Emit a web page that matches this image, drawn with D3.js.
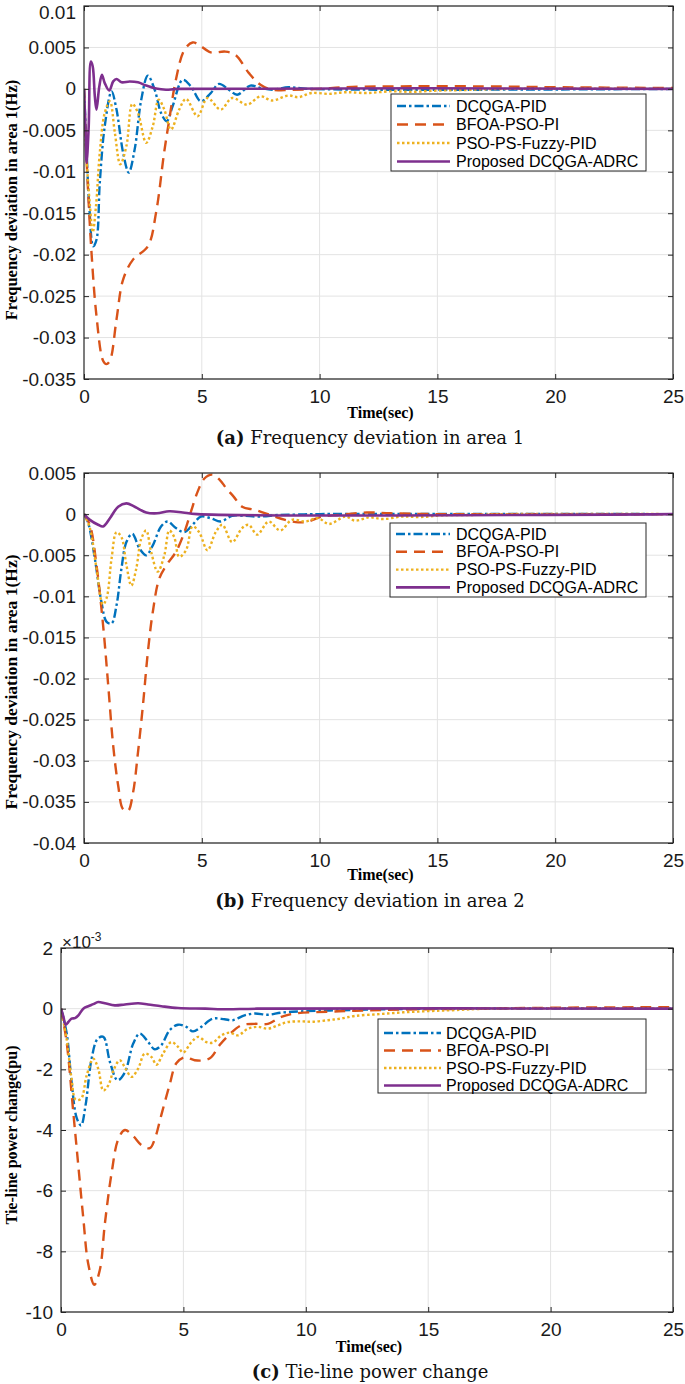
<!DOCTYPE html>
<html><head><meta charset="utf-8">
<script src="https://cdn.jsdelivr.net/npm/d3@7"></script>
<style>body{margin:0;background:#fff} svg{display:block}</style>
</head><body>
<svg id="chart" width="685" height="1384"></svg>
<script>
// ---------- DATA ----------
const seriesNames = ["DCQGA-PID", "BFOA-PSO-PI", "PSO-PS-Fuzzy-PID", "Proposed DCQGA-ADRC"];
const xTicks = [0, 5, 10, 15, 20, 25];

// Panel (a): frequency deviation area 1, values in units of 0.001 Hz  [time(s), value]
const a_DCQGA = [[0,0],[0.08,-5.3],[0.22,-14],[0.39,-19],[0.53,-18.2],[0.67,-11.3],[0.88,-4.5],[1.17,-0.3],[1.38,-2.5],[1.66,-7.7],[1.9,-10.1],[2.15,-7.3],[2.43,-1.3],[2.71,1.6],[3.0,-0.1],[3.27,-2.9],[3.51,-3.9],[3.76,-2.1],[4.19,1.1],[4.54,0.3],[4.96,-1.5],[5.38,-0.5],[5.73,0.6],[6.15,-0.1],[6.5,-0.7],[7.06,0.4],[7.5,0.1],[8.0,-0.1],[8.68,0.2],[9.5,0],[25,0]];
const a_BFOA = [[0,0],[0.11,-8.5],[0.32,-19.8],[0.53,-27.4],[0.81,-32.8],[0.95,-33.2],[1.1,-32.8],[1.38,-27.8],[1.66,-23],[2.08,-20.6],[2.71,-19],[3.06,-14.9],[3.4,-7.7],[3.62,-3.7],[3.9,1.1],[4.26,4.7],[4.61,5.6],[4.89,5.3],[5.38,4.4],[6.0,4.5],[6.43,4.1],[7.0,1.9],[7.49,0.5],[7.98,-0.1],[8.8,-0.1],[10,0],[11,0.2],[13,0.3],[17,0.3],[20,0.2],[25,0.1]];
const a_PSO = [[0,0],[0.11,-8.5],[0.25,-14],[0.37,-17.3],[0.51,-14.1],[0.67,-7.7],[0.88,-2.9],[1.1,-1.5],[1.31,-5.3],[1.54,-9.1],[1.8,-6.9],[2.05,-1.8],[2.29,-2.9],[2.64,-6.5],[2.92,-4.5],[3.17,-1.3],[3.41,-2.5],[3.69,-4.9],[4.04,-2.5],[4.33,-1.2],[4.82,-3.3],[5.24,-1.1],[5.8,-2.5],[6.29,-1.1],[6.92,-1.9],[7.49,-0.9],[7.98,-1.4],[8.68,-0.8],[9.1,-1.0],[9.66,-0.5],[10.4,-0.6],[11.1,-0.4],[12,-0.5],[13,-0.3],[14,-0.35],[15,-0.2],[16,-0.15],[17,-0.05],[18,0],[25,0]];
const a_ADRC = [[0,0],[0.06,-4.5],[0.11,-8.9],[0.2,-4.5],[0.29,3.3],[0.37,2.7],[0.46,-0.9],[0.53,-2.5],[0.65,0.3],[0.76,1.7],[0.88,0.7],[1.07,-0.2],[1.24,0.9],[1.38,1.2],[1.59,0.8],[1.94,0.9],[2.29,0.8],[2.64,0.4],[3.06,0.04],[3.48,-0.1],[4,0],[25,0]];

// Panel (b): frequency deviation area 2, units of 0.001 Hz
const b_DCQGA = [[0,0],[0.18,-1.1],[0.46,-5.4],[0.74,-10.7],[0.96,-13.1],[1.17,-13.3],[1.38,-11.1],[1.59,-6.6],[1.8,-3.4],[2.05,-2.4],[2.36,-4.2],[2.64,-5.0],[2.92,-3.8],[3.27,-1.5],[3.55,-0.9],[3.9,-1.7],[4.26,-2.2],[4.61,-1.3],[4.96,-0.3],[5.38,-0.5],[5.8,-0.9],[6.29,-0.2],[6.8,-0.2],[7.42,-0.3],[8.3,-0.1],[9.1,-0.05],[10,0],[25,0]];
const b_BFOA = [[0,0],[0.25,-1.3],[0.53,-6.2],[0.81,-13.5],[1.03,-20.9],[1.24,-28.2],[1.45,-33],[1.66,-35.9],[1.87,-36.1],[2.08,-33.9],[2.29,-29],[2.5,-23.3],[2.71,-16.8],[2.92,-11.9],[3.2,-7.8],[3.55,-6.0],[3.9,-4.6],[4.26,-2.2],[4.54,0.3],[4.82,2.7],[5.1,4.3],[5.45,4.8],[5.75,4.2],[6.05,3.1],[6.36,2.1],[6.71,0.9],[7.28,0.5],[7.9,-0.1],[8.54,-0.7],[9.1,-1.0],[9.52,-0.9],[10.1,-0.3],[10.8,-0.1],[12,0.2],[13,0.1],[15,0],[25,0]];
const b_PSO = [[0,0],[0.25,-1.7],[0.53,-6.6],[0.8,-11],[0.96,-10.2],[1.17,-5.4],[1.38,-2.2],[1.59,-2.8],[1.8,-6.2],[2.01,-8.7],[2.22,-6.6],[2.43,-3.0],[2.64,-2.0],[2.85,-4.6],[3.13,-7.0],[3.41,-5.0],[3.62,-2.0],[3.83,-2.8],[4.04,-5.2],[4.33,-4.4],[4.61,-1.5],[4.89,-2.2],[5.24,-4.4],[5.59,-2.2],[5.87,-1.3],[6.29,-3.4],[6.71,-1.7],[6.99,-1.3],[7.35,-2.5],[7.84,-0.9],[8.33,-2.0],[8.82,-0.7],[9.38,-0.9],[9.94,-0.5],[10.4,-1.2],[11.1,-0.3],[11.5,-0.8],[12.1,-0.4],[12.7,-0.6],[13.5,-0.3],[14.3,-0.35],[15.2,-0.15],[16.5,-0.1],[18,0],[25,0]];
const b_ADRC = [[0,0],[0.25,-0.7],[0.6,-1.3],[0.81,-1.5],[1.1,-0.5],[1.45,0.9],[1.8,1.3],[2.15,0.9],[2.64,0.2],[3.1,0.1],[3.62,0.35],[4.19,0.2],[4.8,0],[25,0]];

// Panel (c): tie-line power change, units of 1e-3 pu
const c_DCQGA = [[0,0],[0.23,-0.8],[0.43,-2.4],[0.64,-3.6],[0.82,-3.85],[1.0,-3.2],[1.25,-1.65],[1.49,-1.0],[1.73,-0.93],[2.0,-1.76],[2.31,-2.36],[2.61,-2.1],[2.95,-1.15],[3.22,-0.82],[3.56,-1.1],[3.83,-1.34],[4.1,-1.2],[4.44,-0.71],[4.78,-0.53],[5.12,-0.6],[5.39,-0.75],[5.73,-0.6],[6.2,-0.33],[6.68,-0.35],[7.02,-0.38],[7.5,-0.22],[7.91,-0.16],[8.45,-0.2],[9.0,-0.13],[9.8,-0.09],[11,-0.06],[12.5,-0.03],[15,0],[25,0]];
const c_BFOA = [[0,0],[0.23,-1.1],[0.5,-3.4],[0.71,-5.2],[0.91,-6.9],[1.11,-8.4],[1.36,-9.1],[1.59,-8.6],[1.79,-7.1],[2.07,-5.4],[2.34,-4.3],[2.61,-4.0],[2.95,-4.2],[3.29,-4.5],[3.63,-4.6],[3.83,-4.3],[4.1,-3.5],[4.44,-2.5],[4.71,-1.8],[5.05,-1.6],[5.46,-1.7],[5.87,-1.7],[6.14,-1.6],[6.48,-1.2],[6.82,-0.9],[7.36,-0.55],[7.91,-0.5],[8.45,-0.5],[9.0,-0.27],[9.54,-0.16],[10.9,-0.1],[12,-0.07],[14,-0.03],[17,0],[20,0.03],[25,0.05]];
const c_PSO = [[0,0],[0.23,-1.0],[0.43,-2.3],[0.6,-3.0],[0.82,-2.97],[1.05,-2.2],[1.32,-1.65],[1.52,-1.98],[1.73,-2.7],[1.93,-2.53],[2.17,-1.98],[2.4,-1.7],[2.64,-1.98],[2.88,-2.25],[3.15,-1.98],[3.42,-1.48],[3.7,-1.6],[3.9,-1.85],[4.17,-1.48],[4.51,-1.1],[4.78,-1.26],[4.99,-1.45],[5.33,-1.1],[5.6,-0.93],[5.94,-1.1],[6.2,-1.12],[6.55,-0.88],[6.89,-0.79],[7.23,-0.88],[7.64,-0.66],[8.04,-0.6],[8.45,-0.66],[8.86,-0.55],[9.27,-0.44],[9.8,-0.42],[10.3,-0.43],[10.9,-0.38],[11.4,-0.33],[12,-0.24],[13,-0.18],[14,-0.12],[15,-0.08],[16,-0.05],[17.5,0],[25,0]];
const c_ADRC = [[0,0],[0.1,-0.27],[0.19,-0.53],[0.3,-0.44],[0.43,-0.33],[0.57,-0.31],[0.71,-0.22],[0.91,0],[1.11,0.08],[1.32,0.15],[1.52,0.22],[1.79,0.18],[2.2,0.11],[2.61,0.14],[3.15,0.18],[3.56,0.14],[4.1,0.08],[4.78,0.02],[5.9,0],[6.8,-0.02],[8,0],[25,0]];

const yTicksA = [10,5,0,-5,-10,-15,-20,-25,-30,-35];
const yTickLabelsA = ["0.01","0.005","0","-0.005","-0.01","-0.015","-0.02","-0.025","-0.03","-0.035"];
const yTicksB = [5,0,-5,-10,-15,-20,-25,-30,-35,-40];
const yTickLabelsB = ["0.005","0","-0.005","-0.01","-0.015","-0.02","-0.025","-0.03","-0.035","-0.04"];
const yTicksC = [2,0,-2,-4,-6,-8,-10];
const yTickLabelsC = ["2","0","-2","-4","-6","-8","-10"];

// ---------- STYLE / LAYOUT ----------
const colors = ["#0072BD", "#D95319", "#EDB120", "#7E2F8E"];
const dashes = ["9,3,2.5,3", "11,7", "2.5,2.5", null];
const svg = d3.select("#chart");

const panels = [
  {id:"a", left:84, right:673, top:6, bottom:379, yDomain:[-35,10], ticks:yTicksA, labels:yTickLabelsA,
   series:[a_DCQGA,a_BFOA,a_PSO,a_ADRC], ylabel:"Frequency deviation in area 1(Hz)", ylabelY:200, ylabelSize:16.5,
   legend:{x:391,y:94,w:255,h:77,s0:397,s1:450,tx:456,r0:106,dr:18.5},
   capTag:"(a)", capText:" Frequency deviation in area 1", capY:444, timeY:418},
  {id:"b", left:84, right:673, top:473, bottom:843, yDomain:[-40,5], ticks:yTicksB, labels:yTickLabelsB,
   series:[b_DCQGA,b_BFOA,b_PSO,b_ADRC], ylabel:"Frequency deviation in area 1(Hz)", ylabelY:682, ylabelSize:17.5,
   legend:{x:390,y:523,w:256,h:74,s0:396,s1:450,tx:456,r0:534,dr:17.8},
   capTag:"(b)", capText:" Frequency deviation in area 2", capY:907, timeY:880},
  {id:"c", left:61, right:673, top:948, bottom:1312, yDomain:[-10,2], ticks:yTicksC, labels:yTickLabelsC,
   series:[c_DCQGA,c_BFOA,c_PSO,c_ADRC], ylabel:"Tie-line power change(pu)", ylabelY:1135, ylabelSize:16,
   legend:{x:378,y:1019,w:268,h:74,s0:384,s1:441,tx:446,r0:1033,dr:17.5},
   capTag:"(c)", capText:" Tie-line power change", capY:1378, timeY:1352}
];

const axisColor = "#262626";
const gridColor = "#e3e3e3";

panels.forEach(p => {
  const x = d3.scaleLinear().domain([0,25]).range([p.left, p.right]);
  const y = d3.scaleLinear().domain(p.yDomain).range([p.bottom, p.top]);
  const g = svg.append("g");

  // grid
  g.selectAll(".vg").data(xTicks.slice(1,-1)).join("line")
    .attr("x1", d => x(d)).attr("x2", d => x(d)).attr("y1", p.top).attr("y2", p.bottom)
    .attr("stroke", gridColor).attr("stroke-width", 1);
  g.selectAll(".hg").data(p.ticks).join("line")
    .attr("x1", p.left).attr("x2", p.right).attr("y1", d => y(d)).attr("y2", d => y(d))
    .attr("stroke", gridColor).attr("stroke-width", 1);

  // clip
  svg.append("clipPath").attr("id", "clip-" + p.id).append("rect")
    .attr("x", p.left).attr("y", p.top).attr("width", p.right - p.left).attr("height", p.bottom - p.top);

  const line = d3.line().x(d => x(d[0])).y(d => y(d[1])).curve(d3.curveCatmullRom.alpha(0.5));
  const lg = g.append("g").attr("clip-path", `url(#clip-${p.id})`);
  p.series.forEach((s, i) => {
    lg.append("path").attr("d", line(s)).attr("fill", "none")
      .attr("stroke", colors[i]).attr("stroke-width", i === 3 ? 2.6 : 2.4)
      .attr("stroke-dasharray", dashes[i]);
  });

  // axes
  const fmtY = d => p.labels[p.ticks.indexOf(d)];
  const ax = (gen, tr) => {
    const a = g.append("g").attr("transform", tr).call(gen);
    a.select(".domain").remove();
    a.selectAll("line").attr("stroke", axisColor);
    a.selectAll("text").attr("fill", "#1a1a1a").attr("font-family", "'Liberation Sans', Arial, sans-serif").attr("font-size", 19);
    return a;
  };
  ax(d3.axisBottom(x).tickValues(xTicks).tickFormat(d3.format("d")).tickSizeInner(-5).tickSizeOuter(0).tickPadding(11), `translate(0,${p.bottom})`);
  ax(d3.axisTop(x).tickValues(xTicks).tickFormat("").tickSizeInner(-5).tickSizeOuter(0), `translate(0,${p.top})`);
  const yl = ax(d3.axisLeft(y).tickValues(p.ticks).tickFormat(fmtY).tickSizeInner(-5).tickSizeOuter(0).tickPadding(8), `translate(${p.left},0)`);
  ax(d3.axisRight(y).tickValues(p.ticks).tickFormat("").tickSizeInner(-5).tickSizeOuter(0), `translate(${p.right},0)`);
  // keep the topmost label inside the picture
  yl.selectAll(".tick text").filter(d => y(d) < 10).attr("dy", "0.68em");

  g.append("rect").attr("x", p.left).attr("y", p.top).attr("width", p.right - p.left).attr("height", p.bottom - p.top)
    .attr("fill", "none").attr("stroke", axisColor).attr("stroke-width", 1.2);

  // axis titles
  g.append("text").attr("x", (p.left + p.right) / 2 + 2).attr("y", p.timeY).attr("text-anchor", "middle")
    .attr("font-family", "'Liberation Serif', 'Times New Roman', serif").attr("font-weight", "bold").attr("font-size", 16)
    .text("Time(sec)");
  g.append("text").attr("transform", `translate(17,${p.ylabelY}) rotate(-90)`).attr("text-anchor", "middle")
    .attr("font-family", "'Liberation Serif', 'Times New Roman', serif").attr("font-weight", "bold").attr("font-size", p.ylabelSize)
    .text(p.ylabel);

  // caption
  const cap = g.append("text").attr("x", 370).attr("y", p.capY).attr("text-anchor", "middle")
    .attr("font-family", "'DejaVu Serif', serif").attr("font-size", 18).attr("fill", "#111");
  cap.append("tspan").attr("font-weight", "bold").text(p.capTag);
  cap.append("tspan").text(p.capText);

  // legend
  const L = p.legend;
  const leg = g.append("g");
  leg.append("rect").attr("x", L.x).attr("y", L.y).attr("width", L.w).attr("height", L.h)
    .attr("fill", "#fff").attr("stroke", axisColor).attr("stroke-width", 1);
  seriesNames.forEach((n, i) => {
    const yy = L.r0 + i * L.dr;
    leg.append("line").attr("x1", L.s0).attr("x2", L.s1).attr("y1", yy).attr("y2", yy)
      .attr("stroke", colors[i]).attr("stroke-width", i === 3 ? 2.6 : 2.4).attr("stroke-dasharray", dashes[i]);
    leg.append("text").attr("x", L.tx).attr("y", yy).attr("dy", "0.35em")
      .attr("font-family", "'Liberation Sans', Arial, sans-serif").attr("font-size", 16).attr("fill", "#000")
      .text(n);
  });
});

// exponent label for panel (c)
const ex = svg.append("text").attr("x", 62).attr("y", 948)
  .attr("font-family", "'Liberation Sans', Arial, sans-serif").attr("font-size", 17).attr("fill", "#1a1a1a");
ex.append("tspan").text("\u00d710");
ex.append("tspan").attr("dy", -7).attr("font-size", 12).text("-3");
</script>
</body></html>
